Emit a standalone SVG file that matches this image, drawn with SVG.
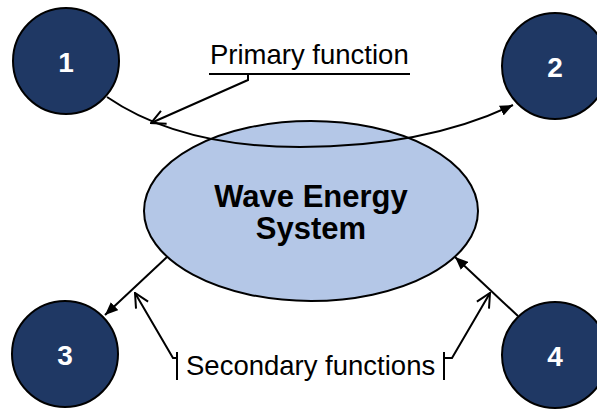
<svg xmlns="http://www.w3.org/2000/svg" width="597" height="410" viewBox="0 0 597 410">
<defs>
<style>
.node circle{fill:#1f3864;stroke:#000;stroke-width:2}
.num{font-family:"Liberation Sans",Arial,sans-serif;font-weight:bold;font-size:28px;fill:#fff;text-anchor:middle}
.sys{fill:#b4c7e7;stroke:#000;stroke-width:2}
.big{font-family:"Liberation Sans",Arial,sans-serif;font-weight:bold;font-size:31px;fill:#000;text-anchor:middle}
.lbl{font-family:"Liberation Sans",Arial,sans-serif;font-size:27.5px;fill:#000}
.conn{fill:none;stroke:#000;stroke-width:2}
</style>
<marker id="fill" markerUnits="userSpaceOnUse" viewBox="0 0 12 10" refX="12" refY="5" markerWidth="13" markerHeight="11" orient="auto">
<path d="M0,0 L12,5 L0,10 Z" fill="#000"/>
</marker>
<marker id="open" markerUnits="userSpaceOnUse" viewBox="0 0 16 16" refX="15" refY="8" markerWidth="16" markerHeight="16" orient="auto">
<path d="M1,1 L15,8 L1,15" fill="none" stroke="#000" stroke-width="2"/>
</marker>
</defs>
<rect width="597" height="410" fill="#fff"/>
<g id="system">
<ellipse class="sys" cx="311" cy="211" rx="167" ry="90"/>
<text class="big" x="311" y="207">Wave Energy</text>
<text class="big" x="311" y="239">System</text>
</g>
<g id="n1" class="node"><circle cx="66" cy="61" r="53"/><text class="num" x="66" y="72">1</text></g>
<g id="n2" class="node"><circle cx="555" cy="66" r="53"/><text class="num" x="555" y="77">2</text></g>
<g id="n3" class="node"><circle cx="65" cy="354" r="53"/><text class="num" x="65" y="365">3</text></g>
<g id="n4" class="node"><circle cx="555" cy="355" r="53"/><text class="num" x="555" y="366">4</text></g>
<g id="connectors">
<path class="conn" d="M107,97 Q180,147 300,147 Q425,147 513,105" marker-end="url(#fill)"/>
<path class="conn" d="M167,257 L105,315" marker-end="url(#fill)"/>
<path class="conn" d="M518,316 L455,257" marker-end="url(#fill)"/>
</g>
<g id="labels">
<text class="lbl" x="210" y="64">Primary function</text>
<line class="conn" x1="209" y1="74" x2="410" y2="74"/>
<path class="conn" d="M248,74 L248,80 L151,123" marker-end="url(#open)"/>
<text class="lbl" x="186" y="375">Secondary functions</text>
<path class="conn" d="M177,352 L177,380 M177,358 L173,358 L135,293" marker-end="url(#open)"/>
<path class="conn" d="M444,352 L444,380 M444,358 L452,358 L490,293" marker-end="url(#open)"/>
</g>
</svg>
